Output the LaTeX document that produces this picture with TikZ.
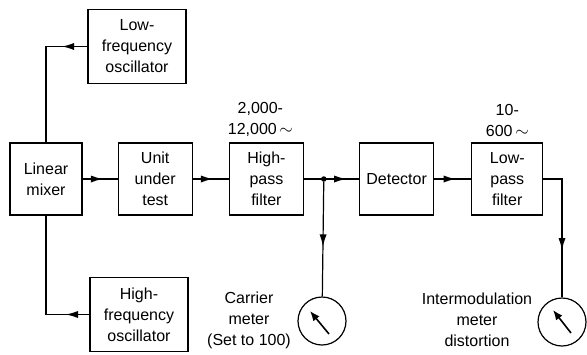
\documentclass[tikz,border=0pt]{standalone}
\usepackage{fontspec}
\setmainfont{Liberation Sans}
\usetikzlibrary{arrows.meta, positioning, decorations.markings}

\begin{document}
\begin{tikzpicture}[
  x=1pt, y=-1pt,
  node distance=35pt,
  every node/.style={font=\fontsize{16}{21}\selectfont},
  box/.style={draw, line width=1.2pt, minimum width=74pt, minimum height=72pt, align=center, inner sep=1pt},
  osc/.style={box, minimum width=98pt, minimum height=74pt},
  wire/.style={line width=1.2pt},
  flow/.style={wire, postaction={decorate, decoration={markings, mark=at position #1 with {\arrow[scale=1.6]{Latex[length=8pt,width=4.5pt]}}}}},
  meter/.style={draw, circle, line width=1.2pt, minimum size=48pt, inner sep=0pt},
  needle/.style={line width=1.6pt, -{Latex[length=10pt,width=8pt]}},
  dot/.style={circle, fill, inner sep=0pt, minimum size=5.5pt},
  note/.style={align=center, inner sep=1pt},
]
\useasboundingbox (0,0) rectangle (587,354);

% Main chain
\node[box, minimum width=72pt] (mixer) at (46,179) {Linear\\mixer};
\node[box, right=35pt of mixer] (unit) {Unit\\under\\test};
\node[box, right=36pt of unit] (hp) {High-\\pass\\filter};
\node[box, right=55pt of hp] (det) {Detector};
\node[box, minimum width=71pt, right=37pt of det] (lp) {Low-\\pass\\filter};

% Oscillators
\node[osc] (losc) at (137,46.5) {Low-\\frequency\\oscillator};
\node[osc] (hosc) at (139,314.5) {High-\\frequency\\oscillator};

% Meters
\path (hp.east) -- (det.west) coordinate[pos=0.36] (jn);
\node[dot] (jdot) at (jn) {};
\node[meter] (cmeter) at (322,321) {};
\node[meter] (imeter) at (562,322) {};
\draw[needle] ([shift={(7,13)}]cmeter.center) -- ([shift={(-12,-10)}]cmeter.center);
\draw[needle] ([shift={(9,11)}]imeter.center) -- ([shift={(-9,-12)}]imeter.center);

% Arrows
\draw[flow=0.19] (losc.west) -| (mixer.north);
\draw[flow=0.17] (hosc.west) -| (mixer.south);
\draw[flow=0.6] (mixer) -- (unit);
\draw[flow=0.58] (unit) -- (hp);
\draw[flow=0.78] (hp) -- (det);
\draw[flow=0.6] (det) -- (lp);
\draw[flow=0.57] (jdot) -- (cmeter);
\draw[flow=0.66] (lp.east) -| (imeter.north);

% Labels
\node[note, above=5pt of hp, xshift=-6pt] (hpband) {2,000-\\12,000\,$\sim$};
\node[note, above=5pt of lp] (lpband) {10-\\600\,$\sim$};
\node[note] (cnote) at (249,320) {Carrier\\meter\\(Set to 100)};
\node[note] (inote) at (477,320) {Intermodulation\\meter\\distortion};

\end{tikzpicture}
\end{document}
